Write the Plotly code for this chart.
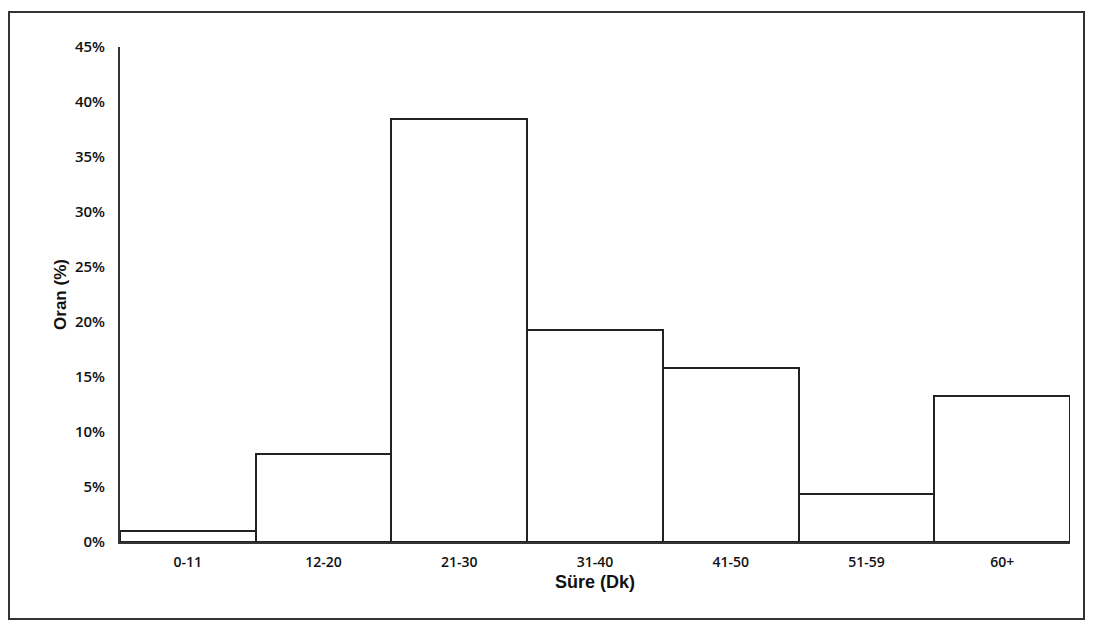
import plotly.graph_objects as go

categories = ["0-11", "12-20", "21-30", "31-40", "41-50", "51-59", "60+"]
values = [1.0, 8.0, 38.5, 19.3, 15.8, 4.4, 13.3]
tick_vals = [0, 5, 10, 15, 20, 25, 30, 35, 40, 45]
tick_text = ["0%", "5%", "10%", "15%", "20%", "25%", "30%", "35%", "40%", "45%"]

fig = go.Figure()
fig.add_trace(go.Bar(
    x=categories, y=values,
    marker=dict(color="white", line=dict(color="#222222", width=2)),
    showlegend=False,
))

# page body has an 8px margin, so the figure is drawn offset by (8, 8)
W, H = 1078, 614
ml, mr, mt, mb = 112, 16, 39, 80
pw, ph = W - ml - mr, H - mt - mb

def px_x(p):
    return (p - ml) / pw

def px_y(p):
    return (H - mb - p) / ph

fig.update_layout(
    width=W, height=H,
    margin=dict(l=ml, r=mr, t=mt, b=mb),
    paper_bgcolor="white", plot_bgcolor="white",
    bargap=0,
    font=dict(family="Open Sans, sans-serif", color="#111111"),
    xaxis=dict(
        showline=True, linecolor="#333333", linewidth=2,
        showgrid=False, ticks="", ticklabelstandoff=6,
        tickfont=dict(size=14, color="#111111", weight=600),
        title=dict(text="<b>Süre (Dk)</b>", font=dict(size=18, family="Liberation Sans, Arial, sans-serif"), standoff=6),
    ),
    yaxis=dict(
        range=[0, 45], tickvals=tick_vals, ticktext=tick_text,
        showline=True, linecolor="#333333", linewidth=2,
        showgrid=False, ticks="", zeroline=False, ticklabelstandoff=10,
        tickfont=dict(size=15, color="#111111", weight=600),
        title=dict(text="<b>Oran (%)</b>", font=dict(size=17, family="Liberation Sans, Arial, sans-serif"), standoff=4),
    ),
    shapes=[dict(
        type="rect", xref="paper", yref="paper",
        x0=px_x(1), x1=px_x(1076), y0=px_y(611), y1=px_y(4),
        line=dict(color="#333333", width=2), fillcolor="rgba(0,0,0,0)", layer="below",
    )],
)

fig.write_html("out.html")
